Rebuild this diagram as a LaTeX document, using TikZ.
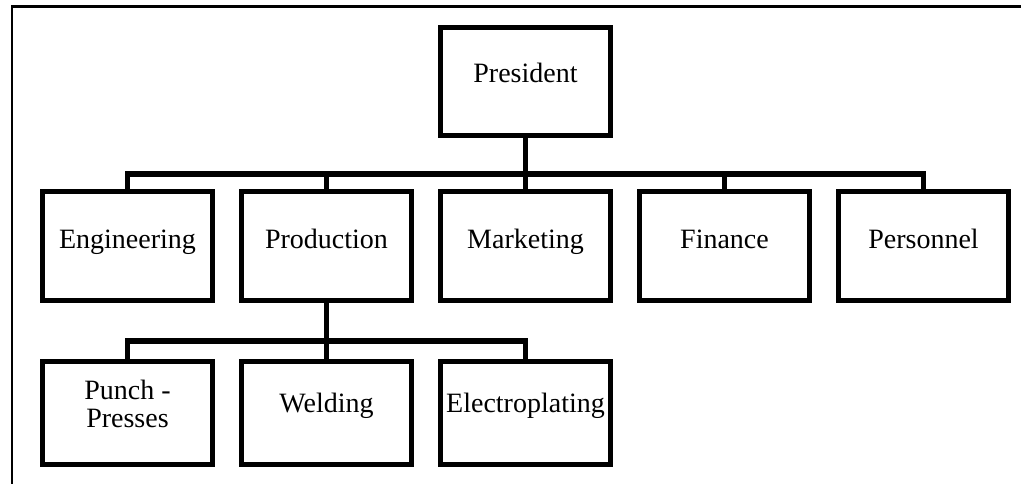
\documentclass[tikz,border=0pt]{standalone}
\usepackage{fontspec}
\setmainfont{Liberation Serif}
\begin{document}
\begin{tikzpicture}[x=1pt,y=-1pt,
  box/.style={draw=black, line width=5pt, rectangle, inner sep=0pt,
    minimum width=170pt, font=\fontsize{28}{24}\selectfont, align=center},
  lvltwo/.style={box, minimum height=109pt, text height=18pt, text depth=14pt},
  lvlone/.style={box, minimum height=108pt, text height=18pt, text depth=15pt},
  lvlthree/.style={box, minimum height=103pt, text height=16pt, text depth=18pt},
  conn/.style={draw=black, line width=5.5pt, line join=miter, line cap=butt},
  frame/.style={draw=black, line width=2.5pt}]
\useasboundingbox (0,0) rectangle (1021,484);
\draw[frame] (12,484) -- (12,6.5) -- (1021,6.5);
% level 1
\node[lvlone] (pres) at (525.5,81.5) {President};
% level 2
\node[lvltwo] (eng)  at (127.5,246) {Engineering};
\node[lvltwo] (prod) at (326.5,246) {Production};
\node[lvltwo] (mkt)  at (525.5,246) {Marketing};
\node[lvltwo] (fin)  at (724.5,246) {Finance};
\node[lvltwo] (pers) at (923.5,246) {Personnel};
% level 3
\node[box, minimum height=103pt] (punch) at (127.5,413) {};
\node[font=\fontsize{28}{28}\selectfont, align=center, inner sep=0pt, anchor=base] (puncht) at (127.5,427) {Punch -\\Presses};
\node[lvlthree] (weld) at (326.5,413) {Welding};
\node[lvlthree] (elec) at (525.5,413) {Electroplating};
% bus coordinates
\coordinate (busone) at (0,174);
\coordinate (bustwo) at (0,341);
% connectors level 1-2
\draw[conn] (pres.south) -- (pres.south |- busone);
\draw[conn] (eng.north) -- (eng.north |- busone) -- (pers.north |- busone) -- (pers.north);
\draw[conn] (prod.north) -- (prod.north |- busone);
\draw[conn] (mkt.north) -- (mkt.north |- busone);
\draw[conn] (fin.north) -- (fin.north |- busone);
% connectors level 2-3
\draw[conn] (prod.south) -- (prod.south |- bustwo);
\draw[conn] (punch.north) -- (punch.north |- bustwo) -- (elec.north |- bustwo) -- (elec.north);
\draw[conn] (weld.north) -- (weld.north |- bustwo);
\end{tikzpicture}
\end{document}
